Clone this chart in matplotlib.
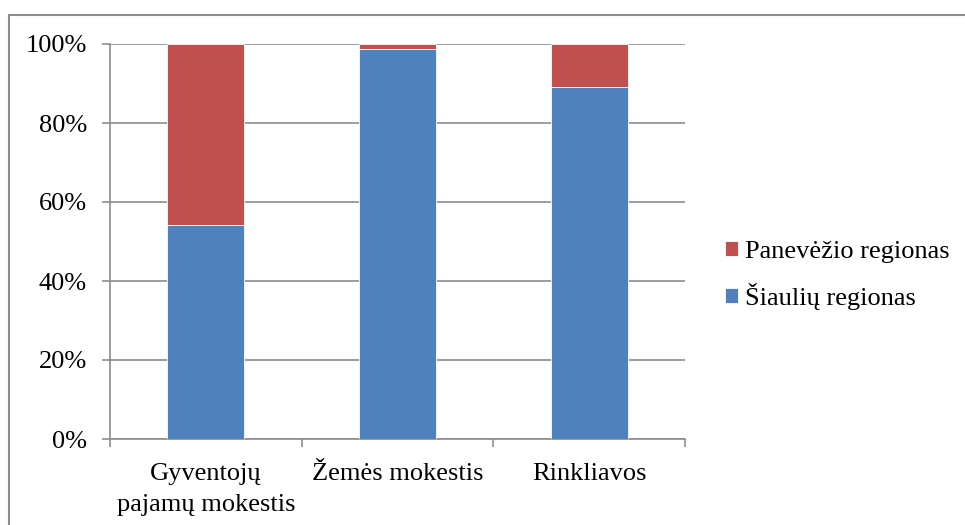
import matplotlib
matplotlib.use("Agg")
import matplotlib.pyplot as plt
from matplotlib.lines import Line2D
import numpy as np

categories = ["Gyventojų\npajamų mokestis", "Žemės mokestis", "Rinkliavos"]
siauliai = [54.3, 98.7, 89.0]
panevezys = [45.7, 1.3, 11.0]
series_names = ["Šiaulių regionas", "Panevėžio regionas"]
yticks = [0, 20, 40, 60, 80, 100]

plt.rcParams['font.family'] = ['Liberation Serif', 'DejaVu Serif']

W, H = 965, 525
fig = plt.figure(figsize=(W/100, H/100), dpi=100)
ax = fig.add_axes([110/W, 1-439/H, 575/W, 395/H])

x = np.arange(len(categories))
blue = "#4F81BD"
red = "#C0504D"
grey = "#8c8c8c"
b1 = ax.bar(x, siauliai, width=0.4, color=blue, edgecolor="white", linewidth=0.6, zorder=3, label=series_names[0])
b2 = ax.bar(x, panevezys, bottom=siauliai, width=0.4, color=red, edgecolor="white", linewidth=0.6, zorder=3, label=series_names[1])

ax.set_xlim(-0.5, 2.5)
ax.set_ylim(0, 100)
ax.set_yticks(yticks)
ax.set_yticklabels([f"{v}%" for v in yticks], fontsize=19)
ax.yaxis.grid(True, color=grey, linewidth=1.2, zorder=0)
ax.set_axisbelow(True)

ax.set_xticks(x)
ax.set_xticklabels(categories, fontsize=19, linespacing=1.55, va="top")
ax.set_xticks([-0.5, 0.5, 1.5, 2.5], minor=True)
ax.tick_params(axis='x', which='major', length=0, pad=17)
ax.tick_params(axis='x', which='minor', length=5.5, color=grey, width=1.2)
ax.tick_params(axis='y', length=5.5, color=grey, width=1.2, pad=11)

for s in ["top", "right"]:
    ax.spines[s].set_visible(False)
for s in ["left", "bottom"]:
    ax.spines[s].set_color(grey)
    ax.spines[s].set_linewidth(1.2)

fig.legend([b2, b1], [series_names[1], series_names[0]], loc="center left",
           bbox_to_anchor=(701/W, 1-275.5/H), frameon=False, fontsize=19,
           handlelength=0.5, handleheight=0.5, handletextpad=0.27, labelspacing=0.78,
           borderpad=0.4)

# chart area frame (left and top edges visible)
fig.add_artist(Line2D([8.5/W, 8.5/W], [0, 1-14.5/H], transform=fig.transFigure, color=grey, linewidth=1.5))
fig.add_artist(Line2D([8.5/W, 1], [1-14.5/H, 1-14.5/H], transform=fig.transFigure, color=grey, linewidth=1.5))

fig.savefig("out.png", dpi=100)
